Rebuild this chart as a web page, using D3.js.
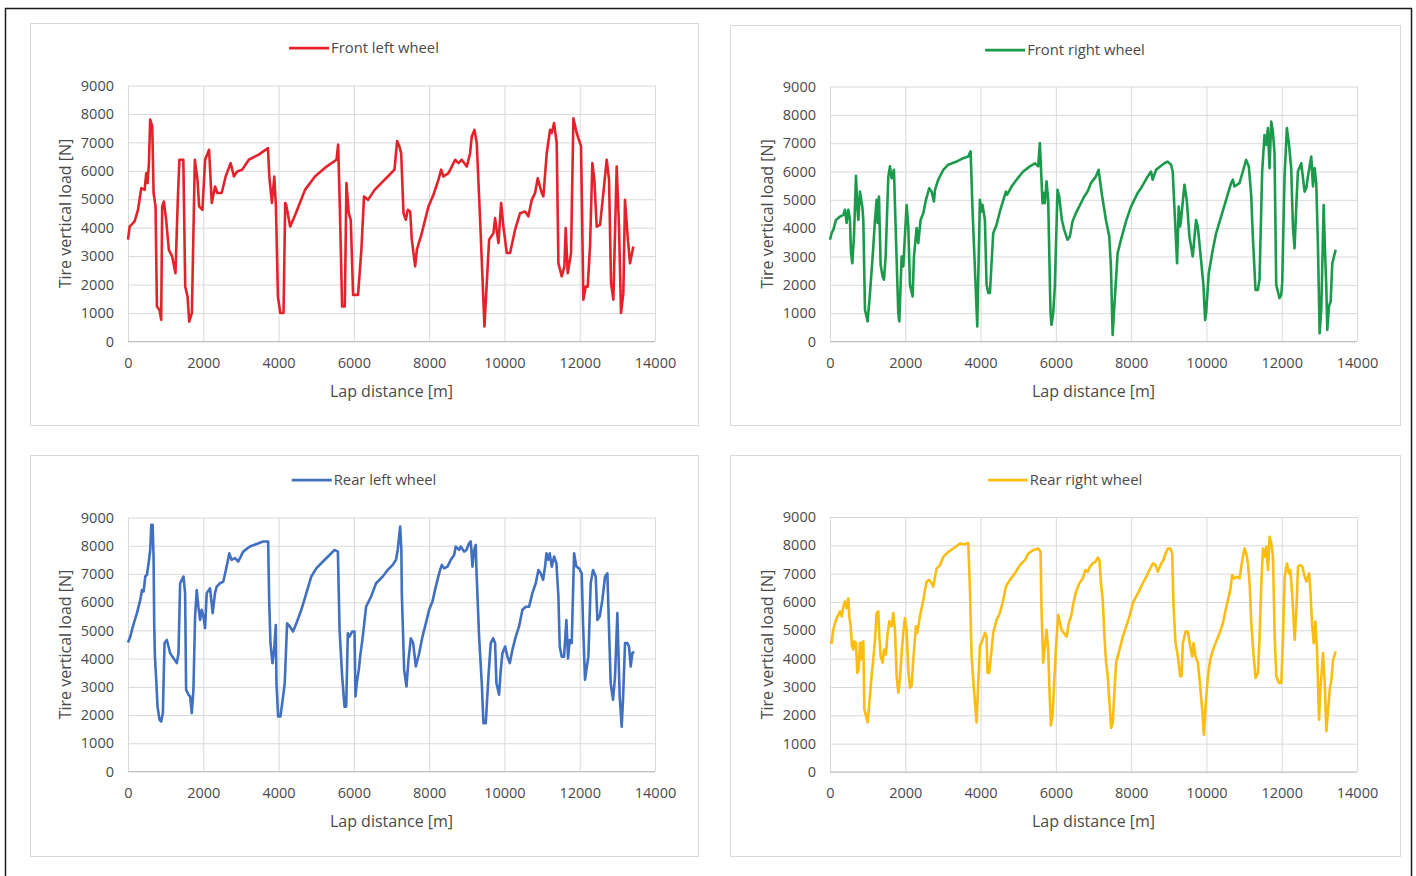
<!DOCTYPE html>
<html>
<head>
<meta charset="utf-8">
<script src="https://cdn.jsdelivr.net/npm/d3@7"></script>
<style>
body { margin: 0; background: #fff; }
svg { display: block; font-family: "Open Sans", sans-serif; }
</style>
</head>
<body>
<svg id="chart"></svg>
<script>
// lap distance [m], tire vertical load [N]
var frontLeft = [[0,3580],[44,4040],[176,4220],[265,4630],[353,5390],[441,5330],[485,5920],[520,5570],[556,6270],[590,7800],[644,7560],[680,5220],[732,4750],[768,1230],[838,1110],[882,760],[908,4750],[953,4920],[1014,4280],[1085,3220],[1173,2990],[1261,2400],[1323,4980],[1366,6390],[1470,6390],[1520,1930],[1582,1580],[1627,700],[1697,1000],[1776,6390],[1846,5690],[1890,4750],[1978,4630],[2048,6390],[2154,6740],[2225,4870],[2313,5450],[2374,5220],[2488,5220],[2594,5800],[2726,6270],[2814,5800],[2902,5980],[3033,6040],[3209,6390],[3473,6570],[3719,6800],[3754,5800],[3824,4870],[3886,5800],[3930,4750],[3983,1580],[4045,1000],[4132,1000],[4176,4870],[4202,4810],[4308,4040],[4440,4450],[4703,5330],[4967,5800],[5275,6150],[5539,6390],[5583,6920],[5627,4750],[5688,1230],[5759,1230],[5803,5570],[5865,4510],[5917,4280],[5980,1640],[6112,1640],[6200,3220],[6270,5100],[6376,4980],[6552,5330],[6728,5570],[6903,5800],[7079,6040],[7150,7050],[7200,6900],[7257,6620],[7319,4510],[7381,4280],[7434,4630],[7496,4570],[7540,3580],[7628,2640],[7673,3220],[7805,3810],[7982,4750],[8115,5160],[8248,5690],[8319,6040],[8381,5800],[8513,5920],[8602,6150],[8690,6390],[8779,6270],[8867,6390],[9000,6150],[9088,6620],[9133,7210],[9204,7440],[9265,6980],[9354,4280],[9469,530],[9593,3580],[9708,3810],[9752,4340],[9841,3460],[9912,4870],[9973,4040],[10062,3110],[10150,3110],[10283,3930],[10416,4510],[10549,4570],[10637,4400],[10726,4980],[10814,5220],[10885,5740],[10991,5220],[11035,5100],[11124,6620],[11212,7440],[11257,7330],[11319,7680],[11389,6980],[11434,2750],[11522,2290],[11593,2640],[11628,3990],[11681,2400],[11770,3110],[11832,7850],[11920,7330],[12035,6860],[12097,1470],[12159,1930],[12212,1930],[12274,3340],[12336,6270],[12389,5690],[12451,4040],[12540,4100],[12655,5570],[12717,6390],[12779,5690],[12832,2050],[12894,1470],[12982,6150],[13044,4040],[13097,1000],[13159,1700],[13203,4980],[13274,3690],[13336,2750],[13425,3340]];

var frontRight = [[0,3590],[44,3820],[88,3940],[159,4290],[265,4410],[354,4470],[398,4650],[442,4180],[487,4650],[531,4290],[558,3120],[593,2760],[637,3710],[690,5850],[726,4760],[752,4290],[796,5290],[858,4760],[885,4290],[929,1120],[1000,710],[1062,1710],[1133,3000],[1195,4290],[1239,5000],[1265,4180],[1301,5120],[1345,2710],[1398,2290],[1434,2180],[1478,3000],[1549,5820],[1593,6180],[1637,5760],[1699,6060],[1743,4060],[1814,1000],[1841,710],[1903,3000],[1947,2650],[2035,4820],[2080,4060],[2124,2000],[2195,1590],[2230,3000],[2301,4000],[2345,3470],[2407,4290],[2478,4530],[2549,5000],[2637,5410],[2699,5290],[2761,4940],[2788,5350],[2876,5710],[3009,6060],[3142,6240],[3363,6350],[3540,6470],[3673,6530],[3735,6710],[3788,4590],[3912,530],[3982,5000],[4027,4590],[4053,4820],[4115,4290],[4159,2000],[4204,1710],[4248,1710],[4336,3820],[4425,4120],[4513,4590],[4673,5290],[4708,5180],[4823,5470],[4956,5710],[5133,6000],[5310,6180],[5442,6290],[5531,6180],[5575,7000],[5646,4880],[5681,5240],[5708,4880],[5752,5650],[5796,5000],[5858,1000],[5885,590],[5929,1000],[5973,1940],[6044,5350],[6088,5120],[6160,4290],[6222,3940],[6310,3590],[6373,3710],[6443,4240],[6532,4530],[6665,4880],[6754,5120],[6843,5290],[6931,5590],[7064,5820],[7135,6060],[7224,5180],[7330,4290],[7419,3710],[7463,2650],[7508,235],[7570,1590],[7641,3120],[7729,3590],[7863,4240],[7996,4760],[8084,5000],[8173,5240],[8262,5410],[8439,5820],[8528,6000],[8572,5710],[8661,6060],[8882,6290],[8971,6350],[9060,6240],[9104,6000],[9220,2760],[9264,4760],[9300,4060],[9326,4290],[9415,5530],[9477,5000],[9548,3710],[9636,3000],[9725,4290],[9769,4060],[9814,3470],[9920,2000],[9965,760],[9991,1000],[10062,2410],[10169,3240],[10257,3820],[10390,4410],[10523,5000],[10656,5590],[10701,5710],[10745,5470],[10878,5590],[10967,6000],[11055,6410],[11126,6180],[11188,5180],[11233,3710],[11304,1820],[11366,1820],[11410,2180],[11481,6000],[11543,7290],[11588,6940],[11632,7530],[11676,6120],[11721,7760],[11765,7410],[11809,6650],[11854,2000],[11942,1530],[11987,1650],[12013,2060],[12075,5820],[12137,7530],[12190,7000],[12252,6120],[12297,4060],[12341,3290],[12386,4760],[12430,6000],[12519,6290],[12608,5290],[12652,5410],[12696,5820],[12741,6180],[12785,6530],[12830,5470],[12874,6120],[12918,5590],[12963,3350],[13007,290],[13051,1120],[13114,4820],[13149,3240],[13184,1940],[13211,410],[13255,1240],[13300,1410],[13344,2760],[13433,3240]];

var rearLeft = [[0,4570],[62,4780],[106,5020],[168,5310],[238,5610],[326,6080],[371,6430],[415,6380],[459,6910],[503,6970],[547,7380],[591,7850],[618,8740],[653,8740],[679,7620],[697,5140],[715,4070],[750,3250],[785,2300],[838,1830],[882,1770],[926,2070],[970,4550],[1032,4660],[1076,4430],[1120,4190],[1209,4010],[1297,3840],[1341,4190],[1385,6670],[1429,6790],[1473,6910],[1517,6320],[1544,2890],[1606,2720],[1650,2660],[1694,2070],[1738,2890],[1782,5490],[1826,6430],[1870,5840],[1914,5370],[1959,5730],[2003,5490],[2047,5080],[2091,6320],[2179,6490],[2250,5610],[2311,6320],[2356,6550],[2444,6670],[2532,6730],[2620,7260],[2691,7730],[2753,7500],[2841,7560],[2929,7440],[3061,7790],[3238,7970],[3414,8060],[3591,8150],[3723,8150],[3750,6080],[3785,4550],[3838,3840],[3882,4310],[3926,5190],[3944,3130],[3988,1950],[4050,1950],[4120,2660],[4164,3130],[4226,5250],[4297,5140],[4385,4960],[4473,5250],[4605,5730],[4738,6320],[4870,6910],[5002,7200],[5179,7440],[5355,7670],[5487,7850],[5576,7790],[5620,5020],[5690,3360],[5752,2300],[5796,2300],[5840,4900],[5884,4780],[5955,4960],[6017,4960],[6043,2660],[6078,3130],[6131,3600],[6167,4070],[6237,4780],[6325,5840],[6458,6200],[6590,6670],[6767,6910],[6899,7140],[7032,7320],[7120,7500],[7164,7850],[7230,8680],[7262,7850],[7274,6320],[7336,3600],[7398,3010],[7451,3950],[7513,4720],[7575,4550],[7646,3720],[7735,4190],[7823,4780],[7912,5250],[8000,5730],[8088,6020],[8177,6550],[8265,7020],[8336,7320],[8398,7200],[8487,7260],[8575,7500],[8664,7670],[8708,7970],[8796,7850],[8841,7970],[8929,7790],[8991,7850],[9062,8090],[9106,8150],[9150,7260],[9195,7850],[9239,8030],[9257,7140],[9327,4780],[9398,3130],[9442,1710],[9504,1710],[9575,3360],[9637,4550],[9699,4720],[9752,4550],[9788,3130],[9858,2720],[9903,3600],[9947,4190],[10018,4430],[10080,4070],[10142,3840],[10212,4310],[10301,4780],[10389,5140],[10478,5730],[10566,5840],[10655,5840],[10743,6320],[10832,6670],[10903,7140],[10965,7020],[11027,6790],[11080,7260],[11115,7730],[11168,7500],[11204,7730],[11257,7260],[11319,7620],[11381,7380],[11434,6200],[11469,4430],[11522,4070],[11584,4070],[11646,5370],[11690,4010],[11735,4660],[11788,4550],[11850,7730],[11912,7260],[11982,7200],[12053,7020],[12088,5250],[12141,3250],[12177,3600],[12230,4070],[12292,6670],[12354,7140],[12425,6910],[12469,5370],[12531,5490],[12602,6080],[12673,6910],[12735,7020],[12779,5020],[12823,3130],[12885,2540],[12938,3360],[13000,5610],[13062,2660],[13115,1590],[13150,2540],[13204,4550],[13265,4550],[13310,4430],[13354,3720],[13398,4190],[13442,4250]];

var rearRight = [[0,4610],[44,4560],[88,5020],[159,5370],[221,5550],[265,5670],[310,5490],[354,5840],[398,6020],[442,5780],[487,6130],[513,5490],[549,5140],[584,4440],[619,4320],[646,4610],[690,4560],[726,3500],[761,3620],[796,4560],[823,3970],[850,4560],[885,4610],[912,2220],[956,1990],[1000,1750],[1062,2690],[1106,3390],[1150,3970],[1195,4670],[1239,5610],[1283,5670],[1310,4790],[1345,4090],[1398,3860],[1434,4320],[1487,4150],[1522,4790],[1575,5320],[1637,5140],[1681,5610],[1726,5020],[1770,3390],[1814,2800],[1858,3270],[1903,4210],[1947,4910],[1991,5430],[2035,5020],[2080,3620],[2124,2980],[2168,3040],[2212,3970],[2283,5140],[2319,4910],[2389,5490],[2478,6070],[2566,6720],[2637,6780],[2699,6660],[2743,6540],[2832,7180],[2920,7300],[3009,7590],[3142,7770],[3274,7890],[3451,8060],[3584,8040],[3673,8080],[3717,6430],[3761,4090],[3823,2920],[3894,1750],[3938,3150],[3982,4440],[4053,4670],[4115,4910],[4159,4790],[4186,3500],[4230,3500],[4292,4320],[4336,4910],[4425,5370],[4513,5610],[4602,6070],[4673,6540],[4779,6780],[4912,7010],[5044,7300],[5177,7480],[5265,7710],[5398,7830],[5531,7890],[5593,7770],[5619,5720],[5664,3860],[5708,4440],[5752,5020],[5796,4320],[5823,3150],[5867,1640],[5912,1990],[5947,2920],[6000,4320],[6062,5550],[6150,5020],[6239,4850],[6289,4780],[6342,5250],[6404,5490],[6466,5960],[6537,6370],[6626,6660],[6714,6830],[6785,7130],[6848,7070],[6910,7250],[6980,7360],[7051,7420],[7113,7570],[7158,7480],[7202,6600],[7246,6070],[7291,4780],[7335,3850],[7379,3380],[7424,2440],[7468,1560],[7512,1740],[7557,2910],[7601,3850],[7690,4310],[7778,4780],[7867,5130],[7956,5490],[8044,5960],[8133,6190],[8222,6420],[8310,6660],[8399,6890],[8488,7130],[8576,7360],[8647,7300],[8709,7070],[8798,7360],[8860,7480],[8913,7710],[8975,7890],[9037,7890],[9090,7710],[9126,5840],[9179,4550],[9241,4080],[9303,3380],[9339,3380],[9374,4550],[9445,4960],[9507,4960],[9569,4430],[9622,4080],[9658,4550],[9711,4080],[9773,3850],[9835,3020],[9888,2200],[9933,1320],[9977,2320],[10039,3380],[10101,3960],[10172,4310],[10261,4610],[10349,4900],[10438,5250],[10509,5720],[10571,6070],[10633,6420],[10686,6950],[10748,6830],[10810,6890],[10881,6830],[10952,7480],[11014,7890],[11059,7710],[11103,7360],[11147,6660],[11192,5250],[11254,4080],[11307,3320],[11369,3490],[11413,4780],[11458,6660],[11502,7890],[11546,7600],[11591,7950],[11635,7130],[11679,8300],[11724,8070],[11768,7600],[11812,4780],[11857,3380],[11927,3140],[11989,3140],[12034,4780],[12078,6890],[12140,7360],[12193,7010],[12229,7130],[12282,6190],[12344,4670],[12389,5720],[12433,7250],[12495,7300],[12548,7250],[12610,6890],[12655,6720],[12726,7010],[12761,6420],[12805,5250],[12850,4550],[12894,5310],[12938,4310],[12991,1850],[13027,2910],[13098,4200],[13142,3140],[13186,1440],[13231,2200],[13275,2910],[13320,3260],[13364,3960],[13435,4260]];

var xTicks = [0, 2000, 4000, 6000, 8000, 10000, 12000, 14000];
var yTicks = [0, 1000, 2000, 3000, 4000, 5000, 6000, 7000, 8000, 9000];
var xTitle = "Lap distance [m]";
var yTitle = "Tire vertical load [N]";

var charts = [
    { name: "Front left wheel", data: frontLeft, color: "#e3232b", box: [30, 23, 668, 402], plot: [128, 85.5, 527, 256] },
    { name: "Front right wheel", data: frontRight, color: "#1c9a4c", box: [730, 25, 670, 400], plot: [830, 86.5, 527, 255] },
    { name: "Rear left wheel", data: rearLeft, color: "#4170c0", box: [30, 455, 668, 401], plot: [128, 517.5, 527, 254] },
    { name: "Rear right wheel", data: rearRight, color: "#fbbd12", box: [730, 455, 670, 401], plot: [830, 517, 527, 255] }
];

var textColor = "#4a4a4a";
var gridColor = "#d9d9d9";
var tickSize = 14.5, titleSize = 16, legendSize = 14.8;

var svg = d3.select("#chart").attr("width", 1416).attr("height", 876);
svg.append("rect").attr("width", 1416).attr("height", 876).attr("fill", "#fff");
svg.append("rect")
    .attr("x", 5.5).attr("y", 8.5)
    .attr("width", 1406).attr("height", 900)
    .attr("fill", "none")
    .attr("stroke", "#1a1a1a")
    .attr("stroke-width", 1.5);

charts.forEach(function (c) {
    var px = c.plot[0], py = c.plot[1], pw = c.plot[2], ph = c.plot[3];
    var g = svg.append("g");

    g.append("rect")
        .attr("x", c.box[0] + 0.5).attr("y", c.box[1] + 0.5)
        .attr("width", c.box[2]).attr("height", c.box[3])
        .attr("fill", "#fff")
        .attr("stroke", gridColor);

    var xScale = d3.scaleLinear().domain([0, 14000]).range([px, px + pw]);
    var yScale = d3.scaleLinear().domain([0, 9000]).range([py + ph, py]);

    // gridlines
    var gridX = g.append("g")
        .attr("transform", `translate(0,${py + ph})`)
        .call(d3.axisBottom(xScale).tickValues(xTicks).tickSize(-ph).tickFormat(""));
    var gridY = g.append("g")
        .attr("transform", `translate(${px},0)`)
        .call(d3.axisLeft(yScale).tickValues(yTicks).tickSize(-pw).tickFormat(""));
    [gridX, gridY].forEach(function (a) {
        a.select(".domain").remove();
        a.selectAll("line").attr("stroke", gridColor).attr("stroke-width", 1);
    });

    g.append("line")
        .attr("x1", px).attr("x2", px + pw)
        .attr("y1", yScale(0)).attr("y2", yScale(0))
        .attr("stroke", "#bfbfbf")
        .attr("stroke-width", 1);

    // tick labels
    var xAxisG = g.append("g")
        .attr("transform", `translate(0,${py + ph})`)
        .call(d3.axisBottom(xScale).tickValues(xTicks).tickSize(0).tickPadding(16).tickFormat(d3.format("d")));
    var yAxisG = g.append("g")
        .attr("transform", `translate(${px},0)`)
        .call(d3.axisLeft(yScale).tickValues(yTicks).tickSize(0).tickPadding(14).tickFormat(d3.format("d")));
    [xAxisG, yAxisG].forEach(function (a) {
        a.select(".domain").remove();
        a.selectAll("text")
            .attr("fill", textColor)
            .attr("font-size", tickSize)
            .attr("font-family", "Open Sans, sans-serif");
    });

    g.append("text")
        .attr("x", px + pw / 2)
        .attr("y", py + ph + 55)
        .attr("text-anchor", "middle")
        .attr("fill", textColor)
        .attr("font-size", titleSize)
        .text(xTitle);

    g.append("text")
        .attr("transform", `translate(${px - 57},${py + ph / 2}) rotate(-90)`)
        .attr("text-anchor", "middle")
        .attr("fill", textColor)
        .attr("font-size", titleSize)
        .text(yTitle);

    // legend
    var legendG = g.append("g");
    var legendText = legendG.append("text")
        .attr("x", 42)
        .attr("y", 5)
        .attr("fill", textColor)
        .attr("font-size", legendSize)
        .text(c.name);
    legendG.append("line")
        .attr("x1", 0).attr("x2", 40)
        .attr("y1", 0).attr("y2", 0)
        .attr("stroke", c.color)
        .attr("stroke-width", 2.75);
    var legendW = 42 + legendText.node().getComputedTextLength();
    legendG.attr("transform", `translate(${c.box[0] + c.box[2] / 2 - legendW / 2},${c.box[1] + 25})`);

    // series
    var line = d3.line()
        .x(function (d) { return xScale(d[0]); })
        .y(function (d) { return yScale(d[1]); });
    g.append("path")
        .datum(c.data)
        .attr("d", line)
        .attr("fill", "none")
        .attr("stroke", c.color)
        .attr("stroke-width", 2.6)
        .attr("stroke-linejoin", "round");
});
</script>
</body>
</html>
